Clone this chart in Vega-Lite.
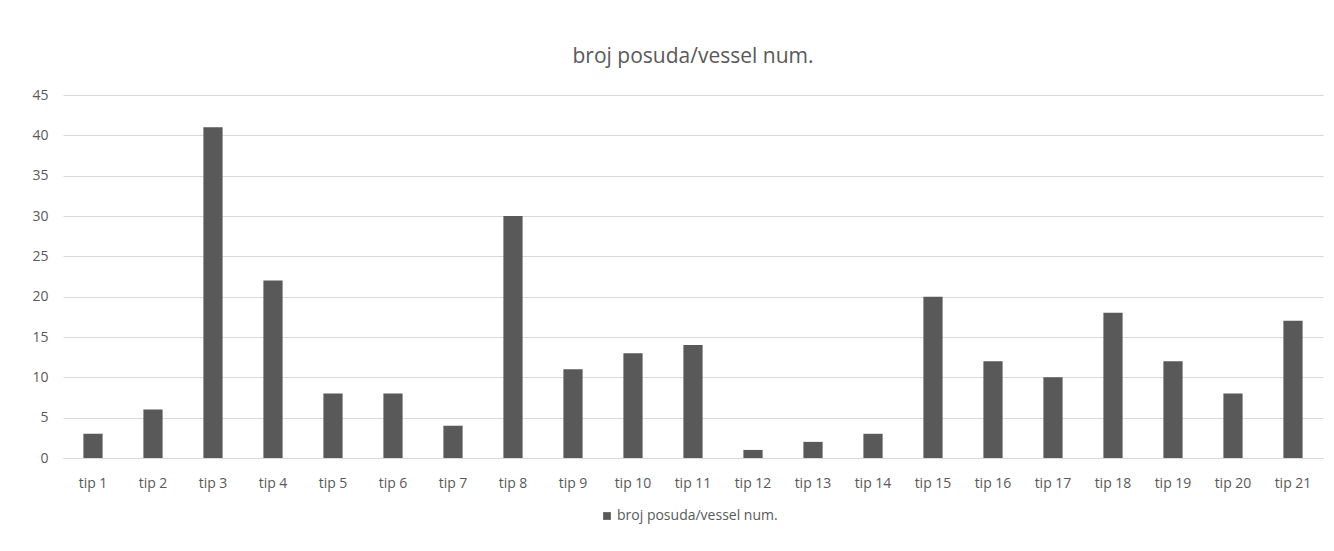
{
  "$schema": "https://vega.github.io/schema/vega-lite/v6.json",
  "autosize": "none",
  "width": 1260,
  "height": 363,
  "padding": {"left": 63, "top": 95, "right": 11, "bottom": 93},
  "background": "white",
  "title": {
    "text": "broj posuda/vessel num.",
    "fontSize": 21,
    "font": "Open Sans",
    "fontWeight": "normal",
    "color": "#595959",
    "offset": 21
  },
  "data": {
    "values": [
      {"tip": "tip 1", "n": 3, "s": "broj posuda/vessel num."},
      {"tip": "tip 2", "n": 6, "s": "broj posuda/vessel num."},
      {"tip": "tip 3", "n": 41, "s": "broj posuda/vessel num."},
      {"tip": "tip 4", "n": 22, "s": "broj posuda/vessel num."},
      {"tip": "tip 5", "n": 8, "s": "broj posuda/vessel num."},
      {"tip": "tip 6", "n": 8, "s": "broj posuda/vessel num."},
      {"tip": "tip 7", "n": 4, "s": "broj posuda/vessel num."},
      {"tip": "tip 8", "n": 30, "s": "broj posuda/vessel num."},
      {"tip": "tip 9", "n": 11, "s": "broj posuda/vessel num."},
      {"tip": "tip 10", "n": 13, "s": "broj posuda/vessel num."},
      {"tip": "tip 11", "n": 14, "s": "broj posuda/vessel num."},
      {"tip": "tip 12", "n": 1, "s": "broj posuda/vessel num."},
      {"tip": "tip 13", "n": 2, "s": "broj posuda/vessel num."},
      {"tip": "tip 14", "n": 3, "s": "broj posuda/vessel num."},
      {"tip": "tip 15", "n": 20, "s": "broj posuda/vessel num."},
      {"tip": "tip 16", "n": 12, "s": "broj posuda/vessel num."},
      {"tip": "tip 17", "n": 10, "s": "broj posuda/vessel num."},
      {"tip": "tip 18", "n": 18, "s": "broj posuda/vessel num."},
      {"tip": "tip 19", "n": 12, "s": "broj posuda/vessel num."},
      {"tip": "tip 20", "n": 8, "s": "broj posuda/vessel num."},
      {"tip": "tip 21", "n": 17, "s": "broj posuda/vessel num."}
    ]
  },
  "mark": {"type": "bar"},
  "encoding": {
    "x": {
      "field": "tip",
      "type": "nominal",
      "sort": null,
      "scale": {"paddingInner": 0.68, "paddingOuter": 0.34},
      "axis": {
        "title": null,
        "labelAngle": 0,
        "labelFont": "Open Sans",
        "labelFontSize": 14,
        "labelColor": "#595959",
        "labelPadding": 18,
        "ticks": false,
        "domainColor": "#d9d9d9",
        "domainWidth": 1
      }
    },
    "y": {
      "field": "n",
      "type": "quantitative",
      "scale": {"domain": [0, 45], "nice": false},
      "axis": {
        "title": null,
        "values": [0, 5, 10, 15, 20, 25, 30, 35, 40, 45],
        "labelFont": "Open Sans",
        "labelFontSize": 14,
        "labelColor": "#595959",
        "labelPadding": 15,
        "ticks": false,
        "domain": false,
        "gridColor": "#d9d9d9",
        "gridWidth": 1
      }
    },
    "color": {
      "field": "s",
      "type": "nominal",
      "scale": {"range": ["#595959"]},
      "legend": {
        "title": null,
        "orient": "none",
        "legendX": 537,
        "legendY": 414,
        "symbolType": "square",
        "symbolSize": 60,
        "labelFont": "Open Sans",
        "labelFontSize": 14,
        "labelLimit": 400,
        "labelColor": "#595959",
        "labelOffset": 3
      }
    }
  },
  "config": {"view": {"stroke": null}}
}
